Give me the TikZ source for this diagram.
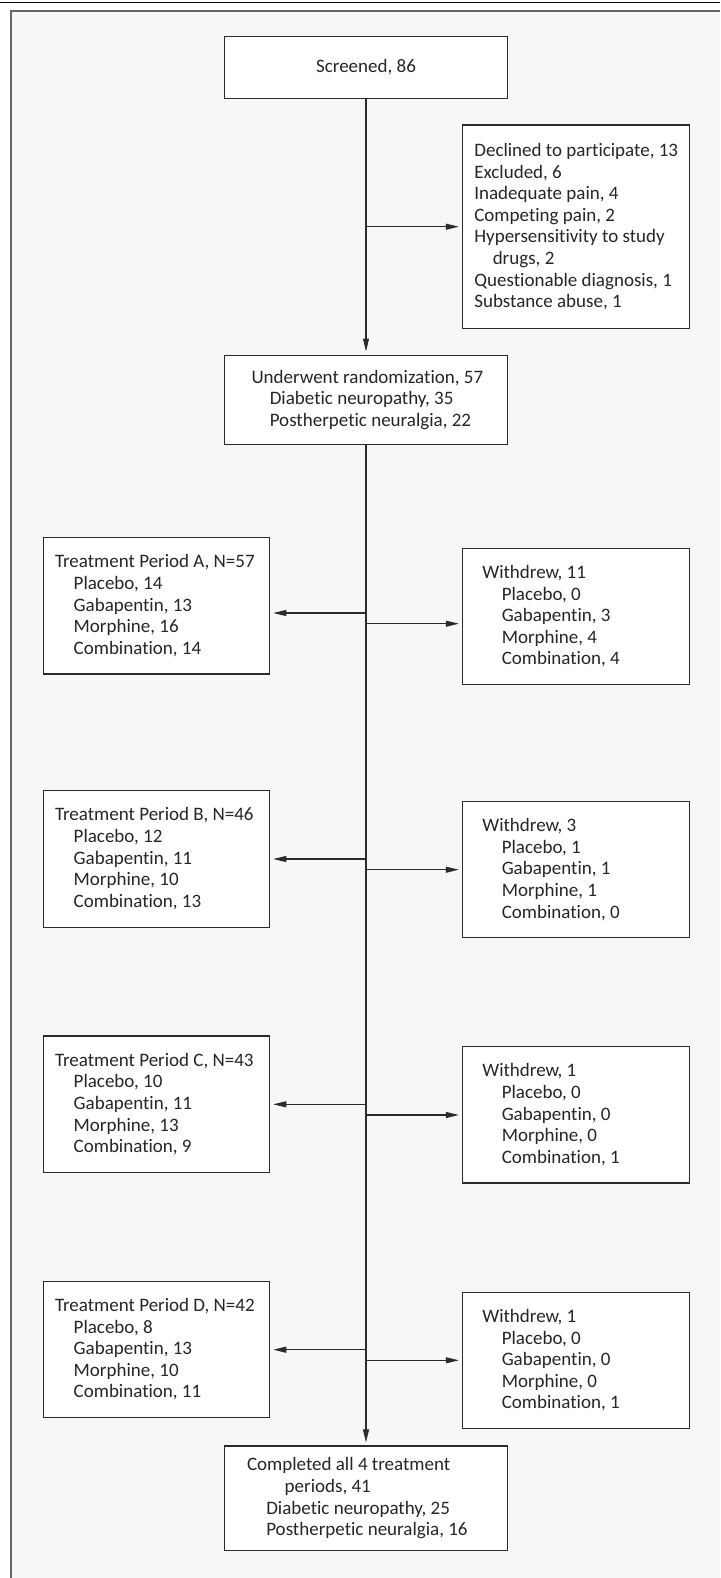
\documentclass[tikz,border=0pt]{standalone}
\usepackage{fontspec}
\setmainfont{Carlito}[Ligatures={NoCommon,NoContextual}]
\usetikzlibrary{arrows.meta}
\definecolor{bgc}{HTML}{F7F7F7}
\definecolor{framec}{HTML}{666666}
\definecolor{linec}{HTML}{2B2B2B}
\definecolor{txtc}{HTML}{262626}
\begin{document}
\begin{tikzpicture}[x=1pt,y=-1pt,
  box/.style={draw=linec, line width=1.1pt, fill=white, rectangle, inner sep=0pt,
    font=\fontsize{19}{21.6}\selectfont, text=txtc},
  tbox/.style={box, minimum width=226.4pt, minimum height=136.5pt},
  wbox/.style={box, minimum width=226.7pt, minimum height=136.4pt},
  cbox/.style={box, minimum width=283pt},
  arr/.style={draw=linec, line width=1.1pt, shorten >=3pt, -{Triangle[length=13pt,width=6pt]}},
  trunk/.style={draw=linec, line width=1.1pt}]
\useasboundingbox (0,0) rectangle (720,1578);
\fill[white] (0,0) rectangle (720,1578);
\fill[bgc] (11.3,10.7) rectangle (720,1578);
\draw[framec, line width=2pt] (11.3,1578) -- (11.3,10.7) -- (720,10.7);
\draw[black, line width=1.3pt] (0,2.7) -- (720,2.7);

% boxes
\node[cbox, minimum height=61.6pt] (scr) at (366,67.5) {Screened, 86};

\node[box, minimum width=226.7pt, minimum height=203.3pt] (exc) at (575.7,226.7)
  {\hspace*{12pt}\parbox{214.7pt}{\raggedright Declined to participate, 13\\
   Excluded, 6\\
   Inadequate pain, 4\\
   Competing pain, 2\\
   Hypersensitivity to study\\
   \hspace*{18.4pt}drugs, 2\\
   Questionable diagnosis, 1\\
   Substance abuse, 1}};

\node[cbox, minimum height=89.3pt] (rand) at (366,399.7)
  {\hspace*{27pt}\parbox{256pt}{\raggedright Underwent randomization, 57\\
   \hspace*{18.3pt}Diabetic neuropathy, 35\\
   \hspace*{18.3pt}Postherpetic neuralgia, 22}};

\node[tbox] (tA) at (156.5,605.7)
  {\hspace*{11.7pt}\parbox{214.7pt}{\raggedright Treatment Period A, N=57\\
   \hspace*{18.7pt}Placebo, 14\\
   \hspace*{18.7pt}Gabapentin, 13\\
   \hspace*{18.7pt}Morphine, 16\\
   \hspace*{18.7pt}Combination, 14}};
\node[tbox] (tB) at (156.5,858.8)
  {\hspace*{11.7pt}\parbox{214.7pt}{\raggedright Treatment Period B, N=46\\
   \hspace*{18.7pt}Placebo, 12\\
   \hspace*{18.7pt}Gabapentin, 11\\
   \hspace*{18.7pt}Morphine, 10\\
   \hspace*{18.7pt}Combination, 13}};
\node[tbox] (tC) at (156.5,1104.2)
  {\hspace*{11.7pt}\parbox{214.7pt}{\raggedright Treatment Period C, N=43\\
   \hspace*{18.7pt}Placebo, 10\\
   \hspace*{18.7pt}Gabapentin, 11\\
   \hspace*{18.7pt}Morphine, 13\\
   \hspace*{18.7pt}Combination, 9}};
\node[tbox] (tD) at (156.5,1349.3)
  {\hspace*{11.7pt}\parbox{214.7pt}{\raggedright Treatment Period D, N=42\\
   \hspace*{18.7pt}Placebo, 8\\
   \hspace*{18.7pt}Gabapentin, 13\\
   \hspace*{18.7pt}Morphine, 10\\
   \hspace*{18.7pt}Combination, 11}};

\node[wbox] (wA) at (575.7,616.3)
  {\hspace*{20pt}\parbox{206.7pt}{\raggedright Withdrew, 11\\
   \hspace*{19.4pt}Placebo, 0\\
   \hspace*{19.4pt}Gabapentin, 3\\
   \hspace*{19.4pt}Morphine, 4\\
   \hspace*{19.4pt}Combination, 4}};
\node[wbox] (wB) at (575.7,869.5)
  {\hspace*{20pt}\parbox{206.7pt}{\raggedright Withdrew, 3\\
   \hspace*{19.4pt}Placebo, 1\\
   \hspace*{19.4pt}Gabapentin, 1\\
   \hspace*{19.4pt}Morphine, 1\\
   \hspace*{19.4pt}Combination, 0}};
\node[wbox] (wC) at (575.7,1114.8)
  {\hspace*{20pt}\parbox{206.7pt}{\raggedright Withdrew, 1\\
   \hspace*{19.4pt}Placebo, 0\\
   \hspace*{19.4pt}Gabapentin, 0\\
   \hspace*{19.4pt}Morphine, 0\\
   \hspace*{19.4pt}Combination, 1}};
\node[wbox] (wD) at (575.7,1360.3)
  {\hspace*{20pt}\parbox{206.7pt}{\raggedright Withdrew, 1\\
   \hspace*{19.4pt}Placebo, 0\\
   \hspace*{19.4pt}Gabapentin, 0\\
   \hspace*{19.4pt}Morphine, 0\\
   \hspace*{19.4pt}Combination, 1}};

\node[cbox, minimum height=104.7pt] (comp) at (366,1498.3)
  {\hspace*{22.5pt}\parbox{260.5pt}{\raggedright Completed all 4 treatment\\
   \hspace*{37.7pt}periods, 41\\
   \hspace*{19.3pt}Diabetic neuropathy, 25\\
   \hspace*{19.3pt}Postherpetic neuralgia, 16}};

% connectors
\draw[arr] (scr.south) -- (rand.north);
\coordinate (bx) at (366,226.7);
\draw[arr] (bx) -- (bx -| exc.west);
\draw[arr] (rand.south) -- (comp.north);

\coordinate (lA) at (366,613);
\coordinate (lB) at (366,859);
\coordinate (lC) at (366,1104.3);
\coordinate (lD) at (366,1349.7);
\coordinate (rA) at (366,623.7);
\coordinate (rB) at (366,869.7);
\coordinate (rC) at (366,1115);
\coordinate (rD) at (366,1360.3);
\foreach \k in {A,B,C,D} {
  \draw[arr] (l\k) -- (l\k -| t\k.east);
  \draw[arr] (r\k) -- (r\k -| w\k.west);
}
\end{tikzpicture}
\end{document}
